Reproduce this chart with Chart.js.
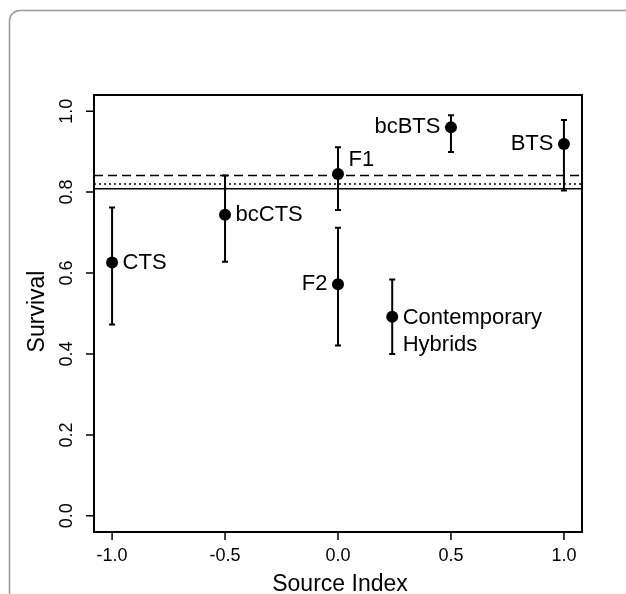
<!DOCTYPE html>
<html>
<head>
<meta charset="utf-8">
<script src="https://cdn.jsdelivr.net/npm/chart.js@4/dist/chart.umd.min.js"></script>
<style>
html, body { margin: 0; padding: 0; background: #fff; }
canvas { display: block; }
</style>
</head>
<body>
<canvas id="chart" width="626" height="594"></canvas>
<script>
// data
const groups = ['CTS', 'bcCTS', 'F1', 'F2', 'Contemporary\nHybrids', 'bcBTS', 'BTS'];
const sourceIndex = [-1, -0.5, 0, 0, 0.24, 0.5, 1];
const survival = [0.626, 0.744, 0.845, 0.572, 0.492, 0.960, 0.919];
const lower = [0.473, 0.628, 0.756, 0.421, 0.400, 0.899, 0.804];
const upper = [0.762, 0.841, 0.911, 0.712, 0.584, 0.990, 0.978];
const refLines = [0.808, 0.820, 0.841]; // solid, dotted, dashed
const xTicks = [-1, -0.5, 0, 0.5, 1];
const yTicks = [0, 0.2, 0.4, 0.6, 0.8, 1];

const xMin = -1.08, xMax = 1.08;
const yMin = -0.04, yMax = 1.04;
const FONT = '"Liberation Sans", Arial, Helvetica, sans-serif';

// where each label sits relative to its point
const labelSide = ['right', 'right', 'right', 'left', 'right', 'left', 'left'];
const labelShift = [0, 0, -14, 0, 1.5, 0, 0];
const refDash = [[], [2, 3], [9, 5]];

const lineSets = refLines.map((v, i) => ({
    type: 'line',
    data: [{x: xMin, y: v}, {x: xMax, y: v}],
    borderColor: '#000',
    borderWidth: 1.5,
    borderDash: refDash[i],
    pointRadius: 0,
    fill: false
}));

const pointSet = {
    type: 'scatter',
    data: sourceIndex.map((x, i) => ({x: x, y: survival[i]})),
    backgroundColor: '#000',
    borderWidth: 0,
    pointRadius: 6,
    pointHoverRadius: 6
};

const errorBars = {
    id: 'errorBars',
    beforeDatasetsDraw(chart) {
        const ctx = chart.ctx, xs = chart.scales.x, ys = chart.scales.y;
        ctx.save();
        ctx.strokeStyle = '#000';
        ctx.lineWidth = 2;
        for (let i = 0; i < sourceIndex.length; i++) {
            const px = xs.getPixelForValue(sourceIndex[i]);
            const lo = ys.getPixelForValue(lower[i]);
            const hi = ys.getPixelForValue(upper[i]);
            ctx.beginPath();
            ctx.moveTo(px, lo); ctx.lineTo(px, hi);
            ctx.moveTo(px - 3, lo); ctx.lineTo(px + 3, lo);
            ctx.moveTo(px - 3, hi); ctx.lineTo(px + 3, hi);
            ctx.stroke();
        }
        ctx.restore();
    }
};

const decor = {
    id: 'decor',
    afterDraw(chart) {
        const ctx = chart.ctx, a = chart.chartArea;
        const xs = chart.scales.x, ys = chart.scales.y;
        ctx.save();

        // page frame
        ctx.strokeStyle = '#999';
        ctx.lineWidth = 1.5;
        ctx.beginPath();
        ctx.moveTo(9.5, 700);
        ctx.lineTo(9.5, 21);
        ctx.arcTo(9.5, 10.5, 20, 10.5, 10.5);
        ctx.lineTo(700, 10.5);
        ctx.stroke();

        // plot box
        ctx.strokeStyle = '#000';
        ctx.lineWidth = 2;
        ctx.strokeRect(a.left, a.top, a.right - a.left, a.bottom - a.top);

        // ticks
        ctx.lineWidth = 1.5;
        ctx.beginPath();
        xTicks.forEach(v => {
            const p = xs.getPixelForValue(v);
            ctx.moveTo(p, a.bottom); ctx.lineTo(p, a.bottom + 8);
        });
        yTicks.forEach(v => {
            const p = ys.getPixelForValue(v);
            ctx.moveTo(a.left - 8, p); ctx.lineTo(a.left, p);
        });
        ctx.stroke();

        ctx.fillStyle = '#000';
        ctx.textBaseline = 'middle';
        ctx.textAlign = 'center';
        ctx.font = '18px ' + FONT;
        xTicks.forEach(v => {
            ctx.fillText(v.toFixed(1), xs.getPixelForValue(v), a.bottom + 24);
        });
        yTicks.forEach(v => {
            ctx.save();
            ctx.translate(a.left - 27, ys.getPixelForValue(v));
            ctx.rotate(-Math.PI / 2);
            ctx.fillText(v.toFixed(1), 0, 0);
            ctx.restore();
        });

        // axis titles
        ctx.font = '23px ' + FONT;
        ctx.fillText('Source Index', (a.left + a.right) / 2 + 2, 585);
        ctx.save();
        ctx.translate(38, (a.top + a.bottom) / 2 - 2);
        ctx.rotate(-Math.PI / 2);
        ctx.fillText('Survival', 0, 0);
        ctx.restore();

        // point labels
        ctx.font = '22px ' + FONT;
        groups.forEach((g, i) => {
            const px = xs.getPixelForValue(sourceIndex[i]);
            const py = ys.getPixelForValue(survival[i]) + labelShift[i];
            const right = labelSide[i] === 'right';
            ctx.textAlign = right ? 'left' : 'right';
            g.split('\n').forEach((line, k) => {
                ctx.fillText(line, px + (right ? 10.5 : -10.5), py + k * 26.7);
            });
        });
        ctx.restore();
    }
};

new Chart(document.getElementById('chart'), {
    data: { datasets: [...lineSets, pointSet] },
    options: {
        responsive: false,
        animation: false,
        devicePixelRatio: 1,
        layout: { padding: { left: 94, right: 44, top: 95, bottom: 62 } },
        plugins: { legend: { display: false }, tooltip: { enabled: false } },
        scales: {
            x: { type: 'linear', min: xMin, max: xMax, display: false },
            y: { type: 'linear', min: yMin, max: yMax, display: false }
        }
    },
    plugins: [errorBars, decor]
});
</script>
</body>
</html>
